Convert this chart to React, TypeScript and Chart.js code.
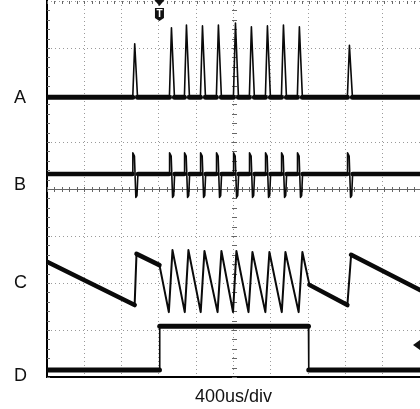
import React, { useEffect, useRef } from 'react';
import { Chart, registerables } from 'chart.js';

Chart.register(...registerables);

// ---- axis setup (time in microseconds, amplitude in screen divisions) ----
const X_MAX = 3980;
const DIV_US = 400;
const Y_DIVS = 8;
const TIME_BASE = '400us/div';

// channel labels on the left
const LABEL_POS = [5.94, 4.09, 2.0, 0.02];
const LABEL_TEXT = ['A', 'B', 'C', 'D'];

// markers
const TRIGGER_TIME = 1200;
const LEVEL_MARK = 0.68;

// ---- channel A: pulses ----
const A_T = [0, 915, 936, 966, 1306, 1328, 1360, 1466, 1488, 1520, 1637, 1659, 1691, 1807, 1829, 1861,
  1989, 2011, 2043, 2159, 2181, 2213, 2330, 2352, 2384, 2501, 2523, 2555, 2671, 2693, 2725, 3205, 3227, 3259, 3980];
const A_V = [5.95, 5.95, 7.09, 5.95, 5.95, 7.43, 5.95, 5.95, 7.49, 5.95, 5.95, 7.47, 5.95, 5.95, 7.49, 5.95,
  5.95, 7.53, 5.95, 5.95, 7.45, 5.95, 5.95, 7.47, 5.95, 5.95, 7.49, 5.95, 5.95, 7.45, 5.95, 5.95, 7.06, 5.95, 5.95];

// ---- channel B: bipolar blips ----
const B_T = [0,
  912, 916, 933, 948, 960, 970,
  1304, 1308, 1325, 1340, 1352, 1362,
  1464, 1468, 1485, 1500, 1512, 1522,
  1635, 1639, 1656, 1671, 1683, 1693,
  1805, 1809, 1826, 1841, 1853, 1863,
  1987, 1991, 2008, 2023, 2035, 2045,
  2157, 2161, 2178, 2193, 2205, 2215,
  2328, 2332, 2349, 2364, 2376, 2386,
  2499, 2503, 2520, 2535, 2547, 2557,
  2669, 2673, 2690, 2705, 2717, 2727,
  3203, 3207, 3224, 3239, 3251, 3261,
  3980];
const B_V = [4.32,
  4.32, 4.77, 4.70, 3.82, 3.86, 4.32,
  4.32, 4.77, 4.70, 3.82, 3.86, 4.32,
  4.32, 4.77, 4.70, 3.82, 3.86, 4.32,
  4.32, 4.77, 4.70, 3.82, 3.86, 4.32,
  4.32, 4.77, 4.70, 3.82, 3.86, 4.32,
  4.32, 4.77, 4.70, 3.82, 3.86, 4.32,
  4.32, 4.77, 4.70, 3.82, 3.86, 4.32,
  4.32, 4.77, 4.70, 3.82, 3.86, 4.32,
  4.32, 4.77, 4.70, 3.82, 3.86, 4.32,
  4.32, 4.77, 4.70, 3.82, 3.86, 4.32,
  4.32, 4.77, 4.70, 3.82, 3.86, 4.32,
  4.32];

// ---- channel C: ramp / sawtooth ----
const C_T = [0, 935, 955, 1200, 1300, 1339, 1470, 1509, 1640, 1680, 1820, 1861, 1985, 2021, 2150, 2192,
  2330, 2373, 2505, 2544, 2685, 2725, 2800, 3205, 3245, 3980];
const C_V = [2.45, 1.53, 2.62, 2.38, 1.38, 2.70, 1.38, 2.70, 1.38, 2.68, 1.38, 2.68, 1.38, 2.68, 1.38, 2.66,
  1.38, 2.66, 1.38, 2.66, 1.38, 2.66, 1.96, 1.53, 2.60, 1.85];

// ---- channel D: gate ----
const D_T = [0, 1200, 1203, 2790, 2793, 3980];
const D_V = [0.15, 0.15, 1.08, 1.08, 0.15, 0.15];

const FONT = '"Liberation Sans", Arial, Helvetica, sans-serif';

const toPts = (t: number[], v: number[]) => t.map((x, i) => ({ x, y: v[i] }));

const seg = (thick: number, thin: number) => ({
  borderWidth: (ctx: any) => {
    const dx = Math.abs(ctx.p1.parsed.x - ctx.p0.parsed.x);
    const dy = Math.abs(ctx.p1.parsed.y - ctx.p0.parsed.y);
    return dy <= dx * 0.003 ? thick : thin;
  },
});

const trace = (label: string, t: number[], v: number[], thick: number, thin: number) => ({
  label,
  data: toPts(t, v),
  borderColor: '#0a0a0a',
  backgroundColor: '#0a0a0a',
  pointRadius: 0,
  tension: 0,
  fill: false,
  borderCapStyle: 'round' as const,
  borderJoinStyle: 'round' as const,
  segment: seg(thick, thin),
});

const scopePlugin = {
  id: 'scopeDecor',
  beforeDatasetsDraw(chart: any) {
    const { ctx, chartArea: a, scales } = chart;
    const x = scales.x;
    const y = scales.y;
    ctx.save();
    ctx.strokeStyle = '#666';
    ctx.lineWidth = 1;
    ctx.beginPath();
    // center horizontal line with minor ticks
    const cy = Math.round(y.getPixelForValue(Y_DIVS / 2)) + 0.5;
    ctx.moveTo(a.left, cy);
    ctx.lineTo(a.right, cy);
    for (let t = 0; t <= X_MAX; t += DIV_US / 5) {
      const px = Math.round(x.getPixelForValue(t)) + 0.5;
      ctx.moveTo(px, cy - 2.5);
      ctx.lineTo(px, cy + 2.5);
      // top edge ticks
      ctx.moveTo(px, a.top);
      ctx.lineTo(px, a.top + 3);
    }
    // center vertical minor ticks + left edge ticks
    const cx = Math.round(x.getPixelForValue(DIV_US * 5)) + 0.5;
    for (let d = 0; d <= Y_DIVS; d += 0.2) {
      const py = Math.round(y.getPixelForValue(d)) + 0.5;
      ctx.moveTo(cx - 2.5, py);
      ctx.lineTo(cx + 2.5, py);
      ctx.moveTo(a.left, py);
      ctx.lineTo(a.left + 3, py);
    }
    ctx.stroke();
    ctx.restore();
  },
  afterDatasetsDraw(chart: any) {
    const { ctx, chartArea: a, scales } = chart;
    const x = scales.x;
    const y = scales.y;
    ctx.save();
    // trigger marker
    const tx = x.getPixelForValue(TRIGGER_TIME);
    ctx.fillStyle = '#111';
    ctx.beginPath();
    ctx.moveTo(tx - 5, 0);
    ctx.lineTo(tx + 5, 0);
    ctx.lineTo(tx, 6);
    ctx.closePath();
    ctx.fill();
    ctx.beginPath();
    ctx.moveTo(tx - 4.5, 8);
    ctx.lineTo(tx + 4.5, 8);
    ctx.lineTo(tx + 4.5, 18);
    ctx.lineTo(tx, 21);
    ctx.lineTo(tx - 4.5, 18);
    ctx.closePath();
    ctx.fill();
    ctx.fillStyle = '#fff';
    ctx.font = 'bold 10px ' + FONT;
    ctx.textAlign = 'center';
    ctx.textBaseline = 'middle';
    ctx.fillText('T', tx, 14);
    // level marker on the right
    const ly = y.getPixelForValue(LEVEL_MARK);
    ctx.fillStyle = '#111';
    ctx.beginPath();
    ctx.moveTo(a.right - 7, ly);
    ctx.lineTo(a.right, ly - 5);
    ctx.lineTo(a.right, ly + 5);
    ctx.closePath();
    ctx.fill();
    ctx.restore();
  },
};

export default function App() {
  const ref = useRef<HTMLCanvasElement | null>(null);

  useEffect(() => {
    if (!ref.current) return;
    const chart = new Chart(ref.current, {
      type: 'line',
      data: {
        datasets: [
          trace('A', A_T, A_V, 5, 1.6),
          trace('B', B_T, B_V, 4.5, 1.6),
          trace('C', C_T, C_V, 4.5, 2),
          trace('D', D_T, D_V, 5, 1.6),
        ],
      },
      options: {
        responsive: false,
        animation: false,
        layout: { padding: { top: 1, right: 0, left: 14, bottom: 0 } },
        plugins: {
          legend: { display: false },
          tooltip: { enabled: false },
        },
        scales: {
          x: {
            type: 'linear',
            min: 0,
            max: X_MAX,
            ticks: { display: false, stepSize: DIV_US },
            grid: { color: '#9a9a9a', lineWidth: 1, drawTicks: false },
            border: { display: true, color: '#000', width: 2, dash: [1, 3] },
            title: {
              display: true,
              text: TIME_BASE,
              color: '#111',
              font: { family: FONT, size: 18 },
              padding: { top: 0, bottom: 1 },
            },
            afterFit: (s: any) => { s.height = 32; },
          },
          y: {
            type: 'linear',
            position: 'left',
            min: 0,
            max: Y_DIVS,
            ticks: { display: false, stepSize: 1 },
            grid: { color: '#9a9a9a', lineWidth: 1, drawTicks: false },
            border: { display: false, dash: [1, 3] },
            afterFit: (s: any) => { s.width = 0; s.paddingTop = 0; s.paddingBottom = 0; },
          },
          yl: {
            type: 'linear',
            position: 'left',
            min: 0,
            max: Y_DIVS,
            afterBuildTicks: (s: any) => { s.ticks = LABEL_POS.map((v) => ({ value: v })); },
            ticks: {
              color: '#111',
              padding: 0,
              crossAlign: 'far',
              font: { family: FONT, size: 18 },
              autoSkip: false,
              callback: (_v: any, i: number) => LABEL_TEXT[i],
            },
            grid: { display: false, drawTicks: false },
            border: { display: true, color: '#000', width: 2 },
            afterFit: (s: any) => { s.width = 33; s.paddingTop = 0; s.paddingBottom = 0; },
          },
        },
      },
      plugins: [scopePlugin],
    } as any);
    return () => chart.destroy();
  }, []);

  return (
    <div style={{ position: 'fixed', left: 0, top: 0, width: 420, height: 409, background: '#fff' }}>
      <canvas ref={ref} width={420} height={409} style={{ display: 'block' }} />
    </div>
  );
}
